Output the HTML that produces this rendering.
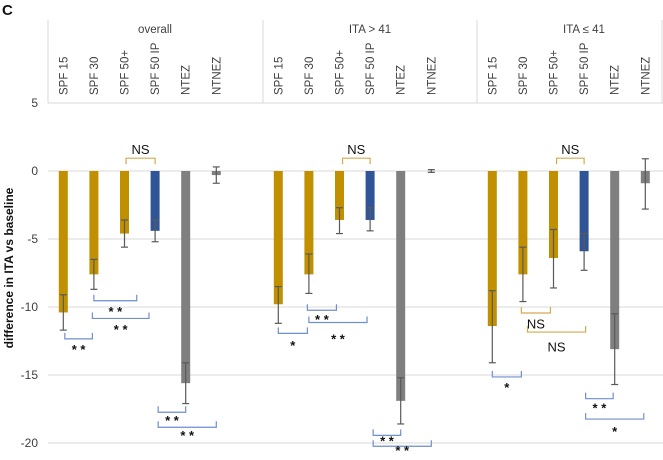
<!DOCTYPE html>
<html><head><meta charset="utf-8"><style>
body{margin:0;background:#fff;width:663px;height:455px;overflow:hidden;font-family:"Liberation Sans",sans-serif}
svg text{font-family:"Liberation Sans","DejaVu Sans",sans-serif}
</style></head><body>
<svg id="chart" width="663" height="455" xmlns="http://www.w3.org/2000/svg"></svg>
<script>
const groups=["overall","ITA > 41","ITA ≤ 41"];
const categories=["SPF 15","SPF 30","SPF 50+","SPF 50 IP","NTEZ","NTNEZ"];
const colors=["#c09000","#c09000","#c09000","#2f5597","#7f7f7f","#7f7f7f"];
const values=[[-10.4,-7.6,-4.6,-4.4,-15.6,-0.3],[-9.8,-7.6,-3.6,-3.6,-16.9,0],[-11.4,-7.6,-6.4,-5.9,-13.1,-0.9]];
const errHi=[[-9.1,-6.5,-3.6,-3.6,-14.1,0.3],[-8.5,-6.1,-2.7,-2.7,-15.2,0.1],[-8.8,-5.6,-4.3,-4.6,-10.5,0.9]];
const errLo=[[-11.7,-8.7,-5.6,-5.2,-17.1,-0.9],[-11.2,-9.0,-4.6,-4.4,-18.6,-0.1],[-14.1,-9.6,-8.6,-7.3,-15.7,-2.8]];
const yTicks=[5,0,-5,-10,-15,-20];
// brackets: [group, fromCat, toCat, edgeVal, label, labelVal, kind]
const brackets=[
[0,0.05,0.95,-11.9,"* *",-13.1,"b"],[0,1,2.4,-9.1,"* *",-10.3,"b"],[0,0.95,2.8,-10.4,"* *",-11.6,"b"],
[0,3.1,4,-17.3,"* *",-18.3,"b"],[0,3.1,5,-18.4,"* *",-19.4,"b"],[0,2.05,3,0.5,"NS",1.6,"g"],
[1,0,0.95,-11.5,"*",-12.8,"b"],[1,0.95,1.9,-9.8,"* *",-10.9,"b"],[1,1,2.9,-10.7,"* *",-12.3,"b"],
[1,3.1,4,-19.0,"* *",-19.8,"b"],[1,3.1,5,-19.8,"* *",-20.5,"b"],[1,2.1,3,0.5,"NS",1.6,"g"],
[2,0,0.95,-14.7,"*",-15.9,"b"],[2,0.95,1.9,-10.0,"NS",-11.2,"g"],[2,1.15,3.05,-11.4,"NS",-12.9,"g"],
[2,3.05,3.95,-16.3,"* *",-17.4,"b"],[2,3.05,4.95,-17.8,"*",-19.1,"b"],[2,2.1,3,0.5,"NS",1.6,"g"]];
const svg=document.getElementById('chart');const NS="http://www.w3.org/2000/svg";
function el(t,a,p){const e=document.createElementNS(NS,t);for(const k in a)e.setAttribute(k,a[k]);(p||svg).appendChild(e);return e;}
const y=v=>171-v*13.6;
const gx=g=>[48,263,477][g];
const slot=30.6;
const x=(g,c)=>gx(g)+slot*(c+0.5);
let t=el('text',{x:2,y:15,'font-size':15,'font-weight':'bold',fill:'#111'});t.textContent='C';


yTicks.forEach(v=>{
 const l=el('line',{x1:48,x2:663,y1:y(v),y2:y(v),stroke:'#d9d9d9','stroke-width':1});
 
 
 const tt=el('text',{x:38,y:y(v)+4,'font-size':12,'text-anchor':'end',fill:'#404040'});tt.textContent=v;
 
 
});
[48,263,477,662].forEach(xx=>{const l=el('line',{x1:xx,x2:xx,y1:20,y2:y(5),stroke:'#d9d9d9'});
 
 });
const yt=el('text',{transform:'translate(13,268) rotate(-90)','font-size':12,'font-weight':'bold','text-anchor':'middle',fill:'#111'});yt.textContent='difference in ITA vs baseline';


groups.forEach((gn,g)=>{
 const gt=el('text',{x:gx(g)+107,y:33,'font-size':11.5,'text-anchor':'middle',fill:'#404040'});gt.textContent=gn;
 
 
 categories.forEach((cn,c)=>{
  const cx=x(g,c);
  const ct=el('text',{transform:`translate(${cx+4},95) rotate(-90)`,'font-size':11.5,fill:'#404040'});ct.textContent=cn;
  
  
  const v=values[g][c];
  const r=el('rect',{x:cx-4.5,y:Math.min(y(0),y(v)),width:9,height:Math.abs(y(v)-y(0)),fill:colors[c]});
  
  
  const eg=el('g',{stroke:'#595959','stroke-width':1.2});
  
  
  el('line',{x1:cx,x2:cx,y1:y(errHi[g][c]),y2:y(errLo[g][c])},eg);
  el('line',{x1:cx-3.5,x2:cx+3.5,y1:y(errHi[g][c]),y2:y(errHi[g][c])},eg);
  el('line',{x1:cx-3.5,x2:cx+3.5,y1:y(errLo[g][c]),y2:y(errLo[g][c])},eg);
 });
});
brackets.forEach(b=>{
 const [g,a,c,tv,lab,lv,k]=b;const col=k==='g'?'#d4aa50':'#6f8fcf';
 const x1=x(g,a),x2=x(g,c),y1=y(tv);
 const up=tv>0;
 const y2=up?y1-6:y1+6;
 const p=el('path',{d:`M${x1},${y1} L${x1},${y2} L${x2},${y2} L${x2},${y1}`,fill:'none',stroke:col,'stroke-width':1.2});
 
 
 const lt=el('text',{x:(x1+x2)/2,y:y(lv)+5,'font-size':lab==='NS'?13:13,'text-anchor':'middle',fill:'#111','font-weight':lab==='NS'?'normal':'bold'});lt.textContent=lab;
 
 
});
</script>
</body></html>
